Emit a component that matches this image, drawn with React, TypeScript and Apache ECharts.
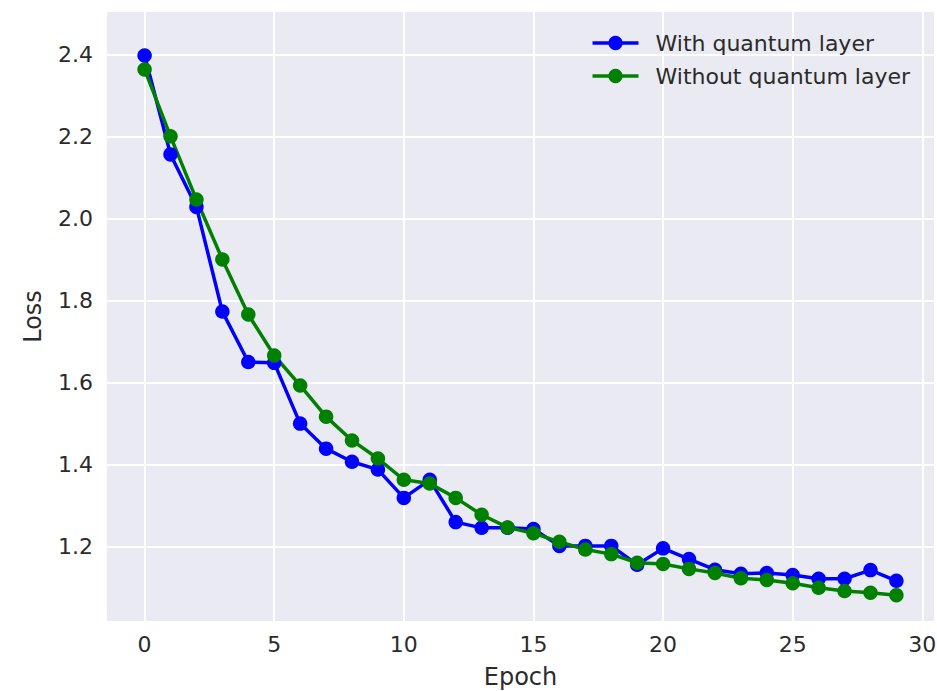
import React, { useEffect, useRef } from "react";
import * as echarts from "echarts";

const epochs = Array.from({ length: 30 }, (_, i) => i);
const withQuantum = [
  2.397, 2.156, 2.028, 1.773, 1.650, 1.648, 1.500, 1.439, 1.407, 1.388,
  1.319, 1.363, 1.260, 1.246, 1.246, 1.243, 1.202, 1.202, 1.202, 1.156,
  1.196, 1.170, 1.144, 1.134, 1.136, 1.131, 1.122, 1.122, 1.143, 1.117,
];
const withoutQuantum = [
  2.363, 2.200, 2.046, 1.900, 1.766, 1.666, 1.593, 1.517, 1.459, 1.415,
  1.363, 1.354, 1.319, 1.278, 1.247, 1.233, 1.212, 1.193, 1.182, 1.161,
  1.158, 1.146, 1.136, 1.123, 1.119, 1.111, 1.100, 1.092, 1.088, 1.082,
];
const xTicks = [0, 5, 10, 15, 20, 25, 30];
const yTicks = [1.2, 1.4, 1.6, 1.8, 2.0, 2.2, 2.4];
const seriesNames = ["With quantum layer", "Without quantum layer"];

const FONT = "DejaVu Sans";
const TEXT = "#2b2b2b";

export default function App() {
  const ref = useRef<HTMLDivElement>(null);
  useEffect(() => {
    if (!ref.current) return;
    const chart = echarts.init(ref.current, undefined, { renderer: "svg" });
    const mk = (name: string, vals: number[], color: string) => ({
      name,
      type: "line",
      data: epochs.map((e, i) => [e, vals[i]]),
      symbol: "circle",
      symbolSize: 14.5,
      showAllSymbol: true,
      lineStyle: { color, width: 3.5 },
      itemStyle: { color },
      emphasis: { disabled: true },
    });
    chart.setOption({
      animation: false,
      backgroundColor: "#ffffff",
      textStyle: { fontFamily: FONT },
      grid: {
        left: 107,
        right: 3,
        top: 12,
        bottom: 70,
        show: true,
        backgroundColor: "#EAEAF2",
        borderWidth: 0,
        outerBoundsMode: "none",
        containLabel: false,
      },
      legend: {
        orient: "vertical",
        right: 22,
        top: 27,
        itemWidth: 46,
        itemHeight: 18,
        itemGap: 11,
        align: "left",
        lineStyle: { width: 3.5 },
        textStyle: {
          fontFamily: FONT,
          fontSize: 22,
          color: TEXT,
          lineHeight: 22,
          padding: [0, 0, 0, 12],
        },
        data: seriesNames,
      },
      xAxis: {
        type: "value",
        min: -1.45,
        max: 30.45,
        name: "Epoch",
        nameLocation: "middle",
        nameGap: 44,
        nameTextStyle: { fontFamily: FONT, fontSize: 24, color: TEXT },
        axisLine: { show: false },
        axisTick: { show: false, customValues: xTicks },
        axisLabel: {
          customValues: xTicks,
          fontFamily: FONT,
          fontSize: 22,
          color: TEXT,
          margin: 12,
        },
        splitLine: { show: true, lineStyle: { color: "#ffffff", width: 2 } },
      },
      yAxis: {
        type: "value",
        min: 1.019,
        max: 2.503,
        name: "Loss",
        nameLocation: "middle",
        nameGap: 62,
        nameTextStyle: { fontFamily: FONT, fontSize: 24, color: TEXT },
        axisLine: { show: false },
        axisTick: { show: false, customValues: yTicks },
        axisLabel: {
          customValues: yTicks,
          fontFamily: FONT,
          fontSize: 22,
          color: TEXT,
          margin: 14,
          formatter: (v: number) => v.toFixed(1),
        },
        splitLine: { show: true, lineStyle: { color: "#ffffff", width: 2 } },
      },
      series: [
        mk(seriesNames[0], withQuantum, "#0000FF"),
        mk(seriesNames[1], withoutQuantum, "#008000"),
      ],
    });
    return () => chart.dispose();
  }, []);
  return (
    <div
      ref={ref}
      style={{ position: "fixed", left: 0, top: 0, width: 937, height: 691 }}
    />
  );
}
